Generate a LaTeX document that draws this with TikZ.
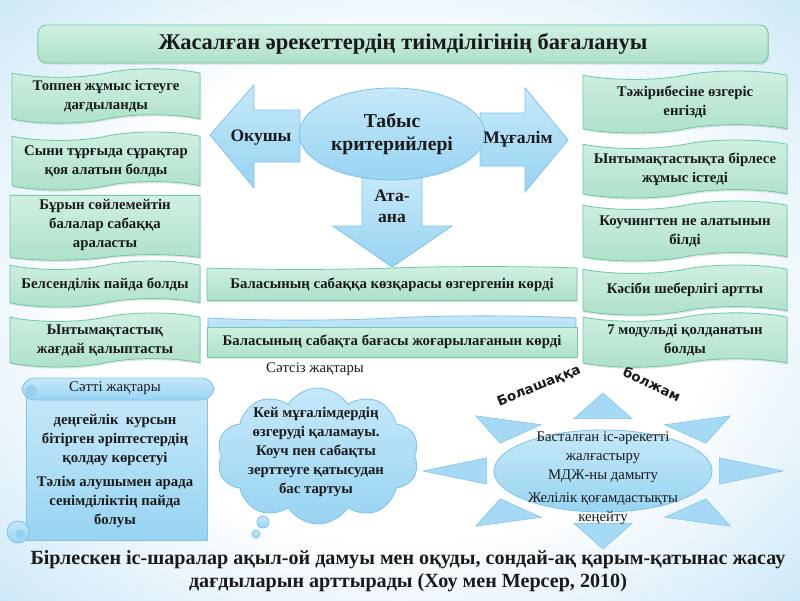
\documentclass[tikz,border=0pt]{standalone}
\usepackage{fontspec}
\setmainfont{Liberation Serif}
\newfontfamily\raysans{DejaVu Sans}
\usetikzlibrary{shapes.geometric, shapes.symbols, shadows, positioning}

\definecolor{bgblue}{HTML}{B3DBF4}   % page edges
\pgfdeclareradialshading{pagebg}{\pgfpoint{0bp}{0bp}}{%
    color(0bp)=(white); color(20bp)=(white); color(38bp)=(bgblue!75);
    color(50bp)=(bgblue)}

\begin{document}
\begin{tikzpicture}[
    x=0.025cm, y=-0.025cm,
    every node/.style={text=inkcol},
]

% ---------------------------------------------------------------- colours
\definecolor{inkcol}{HTML}{1A1A1A}
\definecolor{mintlight}{HTML}{D0F0E1}
\definecolor{mintdark}{HTML}{AEE1C9}
\definecolor{mintline}{HTML}{6FCAA5}
\definecolor{bluelight}{HTML}{C6E8F9}
\definecolor{bluedark}{HTML}{98D4F2}
\definecolor{blueline}{HTML}{7EC4EA}
\definecolor{rayblue}{HTML}{A6DAF4}

\tikzset{
    wave/.style={tape, draw=mintline, line width=0.6pt,
                 top color=mintlight, bottom color=mintdark,
                 tape bend height=6pt, align=center, inner sep=2pt,
                 font=\fontsize{10.5}{13.5}\selectfont\bfseries,
                 drop shadow={opacity=0.2, shadow xshift=0.8pt, shadow yshift=-1.2pt}},
    strip/.style={wave, tape bend bottom=none, tape bend height=2pt},
    blob/.style={draw=blueline, line width=0.6pt,
                 top color=bluelight, bottom color=bluedark},
    ray/.style={fill=rayblue, draw=blueline, line width=0.4pt},
    bigarrow/.style={draw=blueline, line width=0.6pt,
                 top color=bluelight, bottom color=bluedark},
    arrowtext/.style={font=\fontsize{12.5}{15}\selectfont\bfseries, align=center},
}

% ================================================================
% GEOMETRY (units are pixels of an 800 x 600 page, y downwards)
%   title bar            y = 25 .. 63
%   left wave column     x = 12 .. 200
%   right wave column    x = 583 .. 787
%   criteria ellipse     centre (392, 134)
%   parents' strips      x = 207 .. 577, y = 268 .. 357
%   scroll / cloud / sun y = 378 .. 545
% ================================================================

\useasboundingbox (0,0) rectangle (800,600);
\shade[shading=pagebg] (0,0) rectangle (800,600);

% ---------------------------------------------------------------- title
\node[rectangle, rounded corners=6pt, draw=mintline, line width=0.6pt,
      top color=mintlight, bottom color=mintdark,
      minimum width=18.25cm, minimum height=0.95cm,
      drop shadow={opacity=0.2, shadow xshift=0.8pt, shadow yshift=-1.2pt},
      font=\fontsize{16}{19}\selectfont\bfseries] (title) at (403, 44)
    {Жасалған әрекеттердің тиімділігінің бағалануы};

% ---------------------------------------------------------------- pupils (left)
\node[wave, minimum width=4.7cm, minimum height=1.3cm] (lgroup) at (106, 96)
    {Топпен жұмыс істеуге\\дағдыланды};
\node[wave, minimum width=4.7cm, minimum height=1.45cm] (lquest) at (106, 161)
    {Сыни тұрғыда сұрақтар\\қоя алатын болды};
\node[wave, tape bend top=none, tape bend height=4pt, minimum width=4.75cm,
      minimum height=1.62cm] (lsilent) at (105, 225)
    {Бұрын сөйлемейтін\\балалар сабаққа\\араласты};
\node[wave, minimum width=4.75cm, minimum height=1.15cm] (lactive) at (105, 284)
    {Белсенділік пайда болды};
\node[wave, minimum width=4.75cm, minimum height=1.35cm] (lcoop) at (105, 340)
    {Ынтымақтастық\\жағдай қалыптасты};

% ---------------------------------------------------------------- teachers (right)
\node[wave, minimum width=5.1cm, minimum height=1.55cm] (rpractice) at (685, 102)
    {Тәжірибесіне өзгеріс\\енгізді};
\node[wave, minimum width=5.1cm, minimum height=1.45cm] (rtogether) at (685, 169)
    {Ынтымақтастықта бірлесе\\жұмыс істеді};
\node[wave, minimum width=5.1cm, minimum height=1.5cm] (rcoach) at (685, 231)
    {Коучингтен не алатынын\\білді};
\node[wave, minimum width=5.1cm, minimum height=1.25cm] (rskill) at (685, 290)
    {Кәсіби шеберлігі артты};
\node[wave, minimum width=5.1cm, minimum height=1.1cm] (rmodule) at (685, 340)
    {7 модульді қолданатын\\болды};

% ---------------------------------------------------------------- arrows round the criteria
\path[bigarrow] (210,135) -- (254,85) -- (254,110) -- (300,110) -- (300,162)
    -- (254,162) -- (254,188) -- cycle;
\path[bigarrow] (480,113) -- (525,113) -- (525,88) -- (568,140) -- (525,192)
    -- (525,166) -- (480,166) -- cycle;
\path[bigarrow] (362,178) -- (422,178) -- (422,226) -- (452,226) -- (392,267)
    -- (333,226) -- (362,226) -- cycle;

\node[ellipse, blob, minimum width=4.6cm, minimum height=2.3cm,
      font=\fontsize{14}{16.5}\selectfont\bfseries, align=center]
    (criteria) at (392, 134) {Табыс\\критерийлері};

\node[arrowtext] (pupil) at (261, 138) {Окушы};
\node[arrowtext] (teacher) at (518, 139) {Мұғалім};
\node[arrowtext] (parent) at (392, 206) {Ата-\\ана};

% ---------------------------------------------------------------- parents (middle)
\node[strip, minimum width=9.25cm, minimum height=0.85cm] (pview) at (392, 285)
    {Баласының сабаққа көзқарасы өзгергенін көрді};
\node[tape, tape bend bottom=none, tape bend height=3pt, blob,
      minimum width=9.2cm, minimum height=0.8cm] (pband) at (392, 334) {};
\node[strip, tape bend top=none, minimum width=9.25cm, minimum height=0.75cm]
    (pmark) at (392, 342) {Баласының сабақта бағасы жоғарылағанын көрді};

% ---------------------------------------------------------------- strengths (scroll)
\path[blob] (26,392) rectangle (207,540);
\path[blob, rounded corners=9pt] (22,378) rectangle (214,400);
\fill[bluedark!80!blueline] (31,391) circle (6);
\path[blob] (18,532) circle (11);
\fill[bluedark!80!blueline] (20,534) circle (5);

\node[font=\fontsize{10.5}{13}\selectfont] (goodhead) at (115, 388)
    {Сәтті жақтары};
\node[font=\fontsize{10.5}{13.5}\selectfont\bfseries, align=center] (goodtext)
    at (115, 471) {деңгейлік\ \ курсын\\бітірген әріптестердің\\қолдау көрсетуі\\[4pt]
    Тәлім алушымен арада\\сенімділіктің пайда\\болуы};

% ---------------------------------------------------------------- weaknesses (cloud)
\node[font=\fontsize{10.5}{13}\selectfont] (badhead) at (315, 369)
    {Сәтсіз жақтары};
\node[cloud, blob, cloud puffs=10, cloud puff arc=115, aspect=1.4,
      minimum width=5.05cm, minimum height=3.4cm] (cloud) at (318, 456) {};
\path[blob] (263,522) circle (6);
\path[blob] (256,534) circle (4);
\node[font=\fontsize{10.5}{13.5}\selectfont\bfseries, align=center] (badtext)
    at (316, 452) {Кей мұғалімдердің\\өзгеруді қаламауы.\\Коуч пен сабақты\\
    зерттеуге қатысудан\\бас тартуы};

% ---------------------------------------------------------------- future (sun)
\foreach \a in {0,45,...,315} {
    \path[ray] ({603+180*cos(\a)}, {471-78*sin(\a)})
        -- ({603+120*cos(\a+14)}, {471-54*sin(\a+14)})
        -- ({603+120*cos(\a-14)}, {471-54*sin(\a-14)}) -- cycle;
}
\node[ellipse, blob, minimum width=5.45cm, minimum height=2.05cm] (sun)
    at (603, 471) {};
\node[font=\fontsize{10.5}{13.5}\selectfont, align=center] (suntext)
    at (603, 478) {Басталған іс-әрекетті\\жалғастыру\\МДЖ-ны дамыту\\[3pt]
    Желілік қоғамдастықты\\кеңейту};

\node[font=\raysans\fontsize{9.5}{11}\selectfont\bfseries, rotate=22,
      inner sep=1pt] (future) at (539, 386) {Болашаққа};
\node[font=\raysans\fontsize{9.5}{11}\selectfont\bfseries, rotate=-25,
      inner sep=1pt] (forecast) at (652, 384) {болжам};

% ---------------------------------------------------------------- quotation
\node[font=\fontsize{14.3}{16.5}\selectfont\bfseries, align=center] (quote)
    at (408, 571) {Бірлескен іс-шаралар ақыл-ой дамуы мен оқуды, сондай-ақ
    қарым-қатынас жасау\\дағдыларын арттырады (Хоу мен Мерсер, 2010)};

\end{tikzpicture}
\end{document}
